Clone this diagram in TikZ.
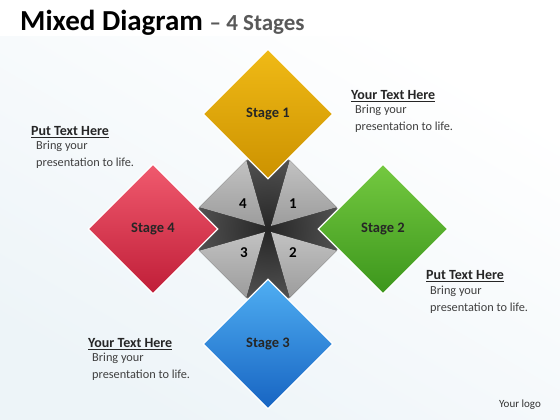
\documentclass[tikz,border=0pt]{standalone}
\usepackage{fontspec}
\setmainfont{Carlito}
\usetikzlibrary{shapes,shapes.geometric,calc,positioning}

\definecolor{bgtint}{HTML}{EDF4F8}
\definecolor{titlegray}{HTML}{595959}
\definecolor{hubcore}{HTML}{262626}
\definecolor{hubrim}{HTML}{5C5C5C}
\definecolor{wedgetop}{HTML}{C2C2C2}
\definecolor{wedgebot}{HTML}{9C9C9C}
\definecolor{yelTop}{HTML}{F0BA16}
\definecolor{yelBot}{HTML}{CC9200}
\definecolor{grnTop}{HTML}{74C940}
\definecolor{grnBot}{HTML}{3C961C}
\definecolor{bluTop}{HTML}{4FAEF2}
\definecolor{bluBot}{HTML}{1764C2}
\definecolor{redTop}{HTML}{F05A6E}
\definecolor{redBot}{HTML}{C01E38}

\begin{document}
\begin{tikzpicture}[%
x=1pt, y=1pt,
node distance=115pt,
on grid,
stage/.style={diamond, aspect=1, minimum size=130pt, inner sep=0pt,
  draw=white, line width=1.2pt, text=black!85,
  font=\fontsize{14.5}{16}\selectfont\bfseries},
head/.style={anchor=base west, inner sep=0pt, text=black!85,
  font=\fontsize{14}{16}\selectfont\bfseries},
body/.style={anchor=base west, inner sep=0pt, align=left, text=black!75,
  font=\fontsize{12.3}{17}\selectfont},
num/.style={text=black, font=\fontsize{15}{17}\selectfont\bfseries}
]
% page
\fill[white] (0,0) rectangle (560,420);
\shade[top color=white, bottom color=bgtint, shading angle=-30] (0,0) rectangle (560,383);
\path[use as bounding box] (0,0) rectangle (560,420);

\node[anchor=base west, inner sep=0pt, text=black, font=\fontsize{29}{31}\selectfont\bfseries] (title) at (20,389)
  {Mixed Diagram \textcolor{titlegray}{\fontsize{23}{25}\selectfont – 4 Stages}};

% centre hub
\node[diamond, aspect=1, minimum size=180pt, inner sep=0pt,
  inner color=hubcore, outer color=hubrim, draw=gray!60, line width=0.8pt] (hub) at (268,191) {};
\foreach \a/\b/\dx/\dy in {north/east/3/3, east/south/3/-3, south/west/-3/-3, west/north/-3/3}
  \fill[top color=wedgetop, bottom color=wedgebot]
    ($(hub.\a)!0.24!(hub.\b)$) -- ($(hub.\a)!0.76!(hub.\b)$) -- ($(hub.center)+(\dx,\dy)$) -- cycle;

\node[num] (q1) [above right=25pt and 25pt of hub] {1};
\node[num] (q2) [below right=24pt and 25pt of hub] {2};
\node[num] (q3) [below left=24pt and 24pt of hub] {3};
\node[num] (q4) [above left=25pt and 25pt of hub] {4};

% stages
\node[stage, top color=yelTop, bottom color=yelBot] (s1) [above=of hub] {Stage 1};
\node[stage, top color=grnTop, bottom color=grnBot] (s2) [right=of hub] {Stage 2};
\node[stage, top color=bluTop, bottom color=bluBot] (s3) [below=of hub] {Stage 3};
\node[stage, top color=redTop, bottom color=redBot] (s4) [left=of hub] {Stage 4};

% notes (body nodes sit on their last line)
\node[head] (h1) at (351,320.5) {\underline{Your Text Here}};
\node[body] (b1) at (355,289) {Bring your\\presentation to life.};
\node[head] (h2) at (426,140.5) {\underline{Put Text Here}};
\node[body] (b2) at (430,108) {Bring your\\presentation to life.};
\node[head] (h3) at (88,72.5) {\underline{Your Text Here}};
\node[body] (b3) at (92,41) {Bring your\\presentation to life.};
\node[head] (h4) at (31,284.5) {\underline{Put Text Here}};
\node[body] (b4) at (36,253) {Bring your\\presentation to life.};

\node[anchor=base west, inner sep=0pt, text=black!80, font=\fontsize{11}{13}\selectfont] (logo) at (499,12) {Your logo};
\end{tikzpicture}
\end{document}
